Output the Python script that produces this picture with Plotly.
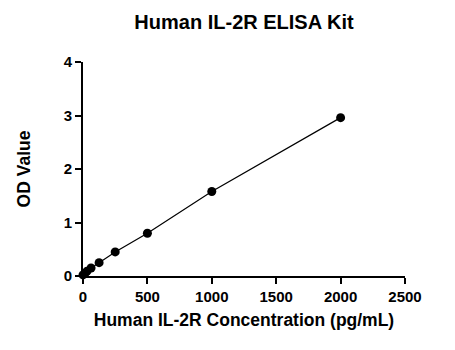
import plotly.graph_objects as go

concentration = [0, 15.6, 31.25, 62.5, 125, 250, 500, 1000, 2000]
od_value = [0.02, 0.05, 0.09, 0.15, 0.25, 0.45, 0.80, 1.58, 2.96]
x_ticks = [0, 500, 1000, 1500, 2000, 2500]
y_ticks = [0, 1, 2, 3, 4]

FONT = "Liberation Sans, Arial, sans-serif"

fig = go.Figure()
fig.add_trace(go.Scatter(
    x=concentration, y=od_value, mode="lines+markers",
    line=dict(color="black", width=1.2),
    marker=dict(color="black", size=9),
    cliponaxis=False, showlegend=False,
))

fig.update_layout(
    width=455, height=350,
    margin=dict(l=83, r=50, t=62, b=74),
    paper_bgcolor="white", plot_bgcolor="white",
    font=dict(family=FONT, color="black"),
    title=dict(text="<b>Human IL-2R ELISA Kit</b>", x=0.5, xref="paper",
               y=1 - 22 / 350, yref="container", yanchor="middle", xanchor="center",
               font=dict(size=20, family=FONT, color="black")),
)
fig.update_xaxes(
    range=[0, 2500], tickvals=x_ticks, ticktext=[f"<b>{v}</b>" for v in x_ticks],
    showline=True, linecolor="black", linewidth=2,
    ticks="outside", ticklen=6, tickwidth=2, tickcolor="black",
    showgrid=False, zeroline=False,
    tickfont=dict(size=15, family=FONT, color="black"),
    title=dict(text="<b>Human IL-2R Concentration (pg/mL)</b>",
               font=dict(size=17.5, family=FONT, color="black"), standoff=10),
)
fig.update_yaxes(
    range=[0, 4], tickvals=y_ticks, ticktext=[f"<b>{v}</b>" for v in y_ticks],
    showline=True, linecolor="black", linewidth=2,
    ticks="outside", ticklen=6, tickwidth=2, tickcolor="black",
    showgrid=False, zeroline=False,
    tickfont=dict(size=15, family=FONT, color="black"),
    title=dict(text="<b>OD Value</b>",
               font=dict(size=17.5, family=FONT, color="black"), standoff=29),
)

fig.write_html("out.html")
